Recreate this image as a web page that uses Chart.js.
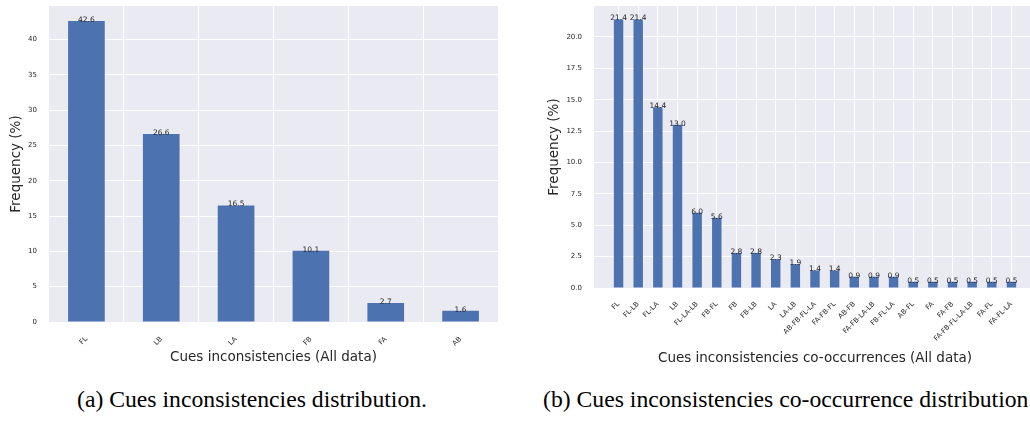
<!DOCTYPE html>
<html>
<head>
<meta charset="utf-8">
<script src="https://cdn.jsdelivr.net/npm/chart.js@4"></script>
<style>
  html, body { margin: 0; padding: 0; background: #fff; }
  body { width: 1030px; height: 421px; overflow: hidden; position: relative; }
  canvas { position: absolute; top: 0; }
  #cuesChart { left: 0; }
  #comboChart { left: 540px; }
  .caption {
    position: absolute; top: 386px; white-space: nowrap;
    font-family: "Liberation Serif", "Times New Roman", serif; font-size: 23.7px; color: #000;
  }
  #capA { left: 77px; }
  #capB { left: 543px; }
</style>
</head>
<body>
<canvas id="cuesChart" width="520" height="380"></canvas>
<canvas id="comboChart" width="500" height="380"></canvas>
<div class="caption" id="capA">(a) Cues inconsistencies distribution.</div>
<div class="caption" id="capB">(b) Cues inconsistencies co-occurrence distribution.</div>
<script>
const cueLabels = ["FL", "LB", "LA", "FB", "FA", "AB"];
const cueFreq = [42.6, 26.6, 16.5, 10.1, 2.7, 1.6];

const comboLabels = ["FL", "FL-LB", "FL-LA", "LB", "FL-LA-LB", "FB-FL", "FB", "FB-LB", "LA", "LA-LB",
  "AB-FB-FL-LA", "FA-FB-FL", "AB-FB", "FA-FB-LA-LB", "FB-FL-LA", "AB-FL", "FA", "FA-FB",
  "FA-FB-FL-LA-LB", "FA-FL", "FA-FL-LA"];
const comboFreq = [21.4, 21.4, 14.4, 13.0, 6.0, 5.6, 2.8, 2.8, 2.3, 1.9,
  1.4, 1.4, 0.9, 0.9, 0.9, 0.5, 0.5, 0.5, 0.5, 0.5, 0.5];

const barColor = "#4C72B0";
const textColor = "#262626";
const font = "'DejaVu Sans', sans-serif";

// seaborn-like grey panel behind the grid
const panelBackground = {
  id: "panelBackground",
  beforeDraw(chart) {
    const { ctx, chartArea: a } = chart;
    ctx.save();
    ctx.fillStyle = "#EAEAF2";
    ctx.fillRect(a.left, a.top, a.right - a.left, a.bottom - a.top);
    ctx.restore();
  }
};

// value printed on top of each bar
const barValues = {
  id: "barValues",
  afterDatasetsDraw(chart) {
    const ctx = chart.ctx;
    const meta = chart.getDatasetMeta(0);
    const values = chart.data.datasets[0].data;
    ctx.save();
    ctx.font = "7.5px " + font;
    ctx.fillStyle = textColor;
    ctx.textAlign = "center";
    ctx.textBaseline = "alphabetic";
    meta.data.forEach((bar, i) => {
      const v = typeof values[i] === "object" ? values[i].y : values[i];
      ctx.fillText(v.toFixed(1), bar.x, bar.y + 1);
    });
    ctx.restore();
  }
};

const tickFont = { family: font, size: 7 };
const titleFont = { family: font, size: 13.5 };

// keep the plot box where the axis sizes say, ignoring label overhang
const fixX = (h) => (s) => { s.height = h; s.paddingLeft = 0; s.paddingRight = 0; };
const fixY = (w) => (s) => { s.width = w; s.paddingTop = 0; s.paddingBottom = 0; };

function createCuesChart() {
  const config = {
    type: "bar",
    data: {
      labels: cueLabels,
      datasets: [{
        data: cueFreq,
        backgroundColor: barColor,
        barPercentage: 0.49,
        categoryPercentage: 1,
      }],
    },
    options: {
      responsive: false,
      animation: false,
      devicePixelRatio: 1,
      layout: { padding: { top: 6, right: 22, left: 0, bottom: 0 } },
      plugins: { legend: false, tooltip: { enabled: false } },
      scales: {
        x: {
          grid: { color: "#fff", lineWidth: 1, drawTicks: false },
          border: { display: false },
          ticks: { font: tickFont, color: textColor, minRotation: 45, maxRotation: 45, padding: 13, autoSkip: false },
          title: { display: true, text: "Cues inconsistencies (All data)", font: titleFont, color: textColor, padding: { top: 0, bottom: 14 } },
          afterFit: fixX(58),
        },
        y: {
          min: 0,
          max: 44.73,
          bounds: "data",
          grid: { color: "#fff", lineWidth: 1, drawTicks: false },
          border: { display: false },
          ticks: { font: tickFont, color: textColor, stepSize: 5, padding: 12, includeBounds: false },
          title: { display: true, text: "Frequency (%)", font: titleFont, color: textColor, padding: { top: 8, bottom: 0 } },
          afterFit: fixY(49),
        },
      },
    },
    plugins: [panelBackground, barValues],
  };
  new Chart(document.getElementById("cuesChart"), config);
}

function createComboChart() {
  const config = {
    type: "bar",
    data: {
      datasets: [{
        data: comboFreq.map((v, i) => ({ x: i, y: v })),
        backgroundColor: barColor,
        barPercentage: 0.48,
        categoryPercentage: 1,
      }],
    },
    options: {
      responsive: false,
      animation: false,
      devicePixelRatio: 1,
      layout: { padding: { top: 6, right: 4, left: 0, bottom: 0 } },
      plugins: { legend: false, tooltip: { enabled: false } },
      scales: {
        x: {
          // linear index axis so the plot can run a bit past the first bar, like pandas does
          type: "linear",
          min: -1.25,
          max: 21.25,
          bounds: "data",
          offset: false,
          grid: { color: "#fff", lineWidth: 1, drawTicks: false, offset: false },
          border: { display: false },
          ticks: {
            font: tickFont, color: textColor, minRotation: 45, maxRotation: 45, padding: 12,
            autoSkip: false, callback: (v) => comboLabels[v] ?? "",
          },
          afterBuildTicks: (axis) => {
            axis.ticks = comboLabels.map((_, i) => ({ value: i }));
          },
          title: { display: true, text: "Cues inconsistencies co-occurrences (All data)", font: titleFont, color: textColor, padding: { top: 0, bottom: 13 } },
          afterFit: fixX(92),
        },
        y: {
          min: 0,
          max: 22.47,
          bounds: "data",
          grid: { color: "#fff", lineWidth: 1, drawTicks: false },
          border: { display: false },
          ticks: { font: tickFont, color: textColor, stepSize: 2.5, padding: 12, includeBounds: false, callback: (v) => v.toFixed(1) },
          title: { display: true, text: "Frequency (%)", font: titleFont, color: textColor, padding: { top: 6, bottom: 0 } },
          afterFit: fixY(54),
        },
      },
    },
    plugins: [panelBackground, barValues],
  };
  new Chart(document.getElementById("comboChart"), config);
}

document.addEventListener("DOMContentLoaded", () => {
  createCuesChart();
  createComboChart();
});
</script>
</body>
</html>
